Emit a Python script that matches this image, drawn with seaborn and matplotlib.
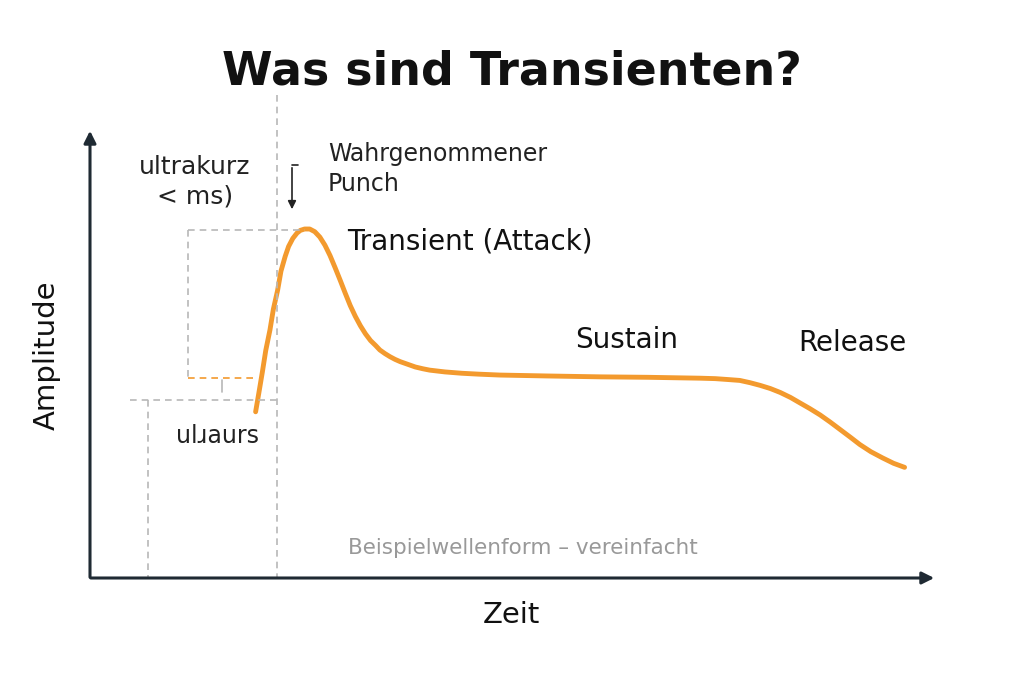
import numpy as np
import pandas as pd
import seaborn as sns
import matplotlib
matplotlib.use("Agg")
import matplotlib.pyplot as plt

# waveform (time %, amplitude %)
zeit = [19.6, 20.0, 20.4, 20.8, 21.3, 21.7, 22.2, 22.6, 23.1, 23.5, 24.0, 24.5, 24.9, 25.4, 26.0, 26.6, 27.2, 27.8, 28.4, 29.0, 29.6, 30.2, 30.8, 31.4, 32.0, 32.6, 33.2, 33.8, 34.3, 34.9, 35.5, 36.1, 36.7, 37.6, 38.5, 39.4, 40.2, 42.0, 44.0, 46.0, 48.5, 54.0, 60.4, 66.0, 72.2, 74.0, 75.5, 76.9, 78.1, 79.3, 80.5, 81.7, 82.9, 84.0, 85.2, 86.4, 87.6, 88.8, 90.0, 91.1, 92.4, 93.8, 95.1, 96.4]
amplitude = [37.1, 41.5, 46.0, 50.8, 55.4, 60.0, 64.2, 68.5, 71.8, 74.0, 75.8, 77.0, 77.6, 77.9, 77.9, 77.3, 76.1, 74.3, 72.0, 69.3, 66.5, 63.6, 60.8, 58.4, 56.3, 54.5, 53.0, 51.9, 50.9, 50.1, 49.4, 48.8, 48.3, 47.7, 47.1, 46.7, 46.4, 46.0, 45.7, 45.5, 45.3, 45.1, 44.9, 44.8, 44.6, 44.5, 44.3, 44.1, 43.6, 43.0, 42.3, 41.4, 40.3, 39.1, 37.8, 36.4, 34.8, 33.1, 31.4, 29.8, 28.2, 26.8, 25.6, 24.7]

sns.set_theme(style="white")
plt.rcParams['font.family'] = ['DejaVu Sans']
fig = plt.figure(figsize=(10.24, 6.82), dpi=100)
W, H = 1024, 682
ax = fig.add_axes([90/W, 1-578/H, 845/W, 448/H])
ax.set_xlim(0, 100); ax.set_ylim(0, 100)
for s in ax.spines.values():
    s.set_visible(False)
ax.set_xticks([]); ax.set_yticks([])

def px(x, y):
    return ((x-90)/845*100, (578-y)/448*100)

df = pd.DataFrame({"Zeit": zeit, "Amplitude": amplitude})
sns.lineplot(data=df, x="Zeit", y="Amplitude", ax=ax, color="#f39a2e", lw=3.5,
             solid_capstyle="round", solid_joinstyle="round")

g = "#b8b8b8"
def seg(p1, p2, c=g, lw=1.2):
    a, b = px(*p1), px(*p2)
    ax.plot([a[0], b[0]], [a[1], b[1]], ls=(0, (4, 3)), color=c, lw=lw, clip_on=False)
seg((277, 95), (277, 578))
seg((188, 230), (305, 230))
seg((188, 230), (188, 378))
seg((188, 378), (258, 378), c="#f39a2e")
seg((130, 400), (277, 400))
seg((148, 400), (148, 578))
a, b = px(222, 380), px(222, 392)
ax.plot([a[0], b[0]], [a[1], b[1]], color=g, lw=1.2)

# axis arrows
ax.annotate("", xy=px(937, 578), xytext=px(88, 578),
            arrowprops=dict(arrowstyle="-|>", color="#1f2a33", lw=2.2, mutation_scale=18), annotation_clip=False)
ax.annotate("", xy=px(90, 128), xytext=px(90, 580),
            arrowprops=dict(arrowstyle="-|>", color="#1f2a33", lw=2.2, mutation_scale=18), annotation_clip=False)

# punch arrow
ax.plot(*zip(px(292, 165), px(298, 165)), color="#222", lw=1.2, clip_on=False)
ax.annotate("", xy=px(292, 212), xytext=px(292, 165),
            arrowprops=dict(arrowstyle="-|>", color="#222", lw=1.2), annotation_clip=False)

def t(x, y, s, **kw):
    ax.text(*px(x, y), s, clip_on=False, **kw)
fig.text(0.5, 1-72/H, "Was sind Transienten?", ha="center", va="center", fontsize=33, fontweight="bold", color="#111")
t(195, 182, "ultrakurz\n< ms)", ha="center", va="center", fontsize=18, color="#222", linespacing=1.3)
t(328, 169, "Wahrgenommener\nPunch", ha="left", va="center", fontsize=17, color="#222", linespacing=1.3)
t(347, 242, "Transient (Attack)", ha="left", va="center", fontsize=20, color="#111")
t(627, 340, "Sustain", ha="center", va="center", fontsize=20, color="#111")
t(852, 343, "Release", ha="center", va="center", fontsize=20, color="#111")
t(218, 436, "ulɹaurs", ha="center", va="center", fontsize=17, color="#222")
t(523, 548, "Beispielwellenform – vereinfacht", ha="center", va="center", fontsize=15.5, color="#999")
t(511, 615, "Zeit", ha="center", va="center", fontsize=21, color="#111")
t(47, 355, "Amplitude", ha="center", va="center", fontsize=21, color="#111", rotation=90)

fig.savefig("out.png", dpi=100)
